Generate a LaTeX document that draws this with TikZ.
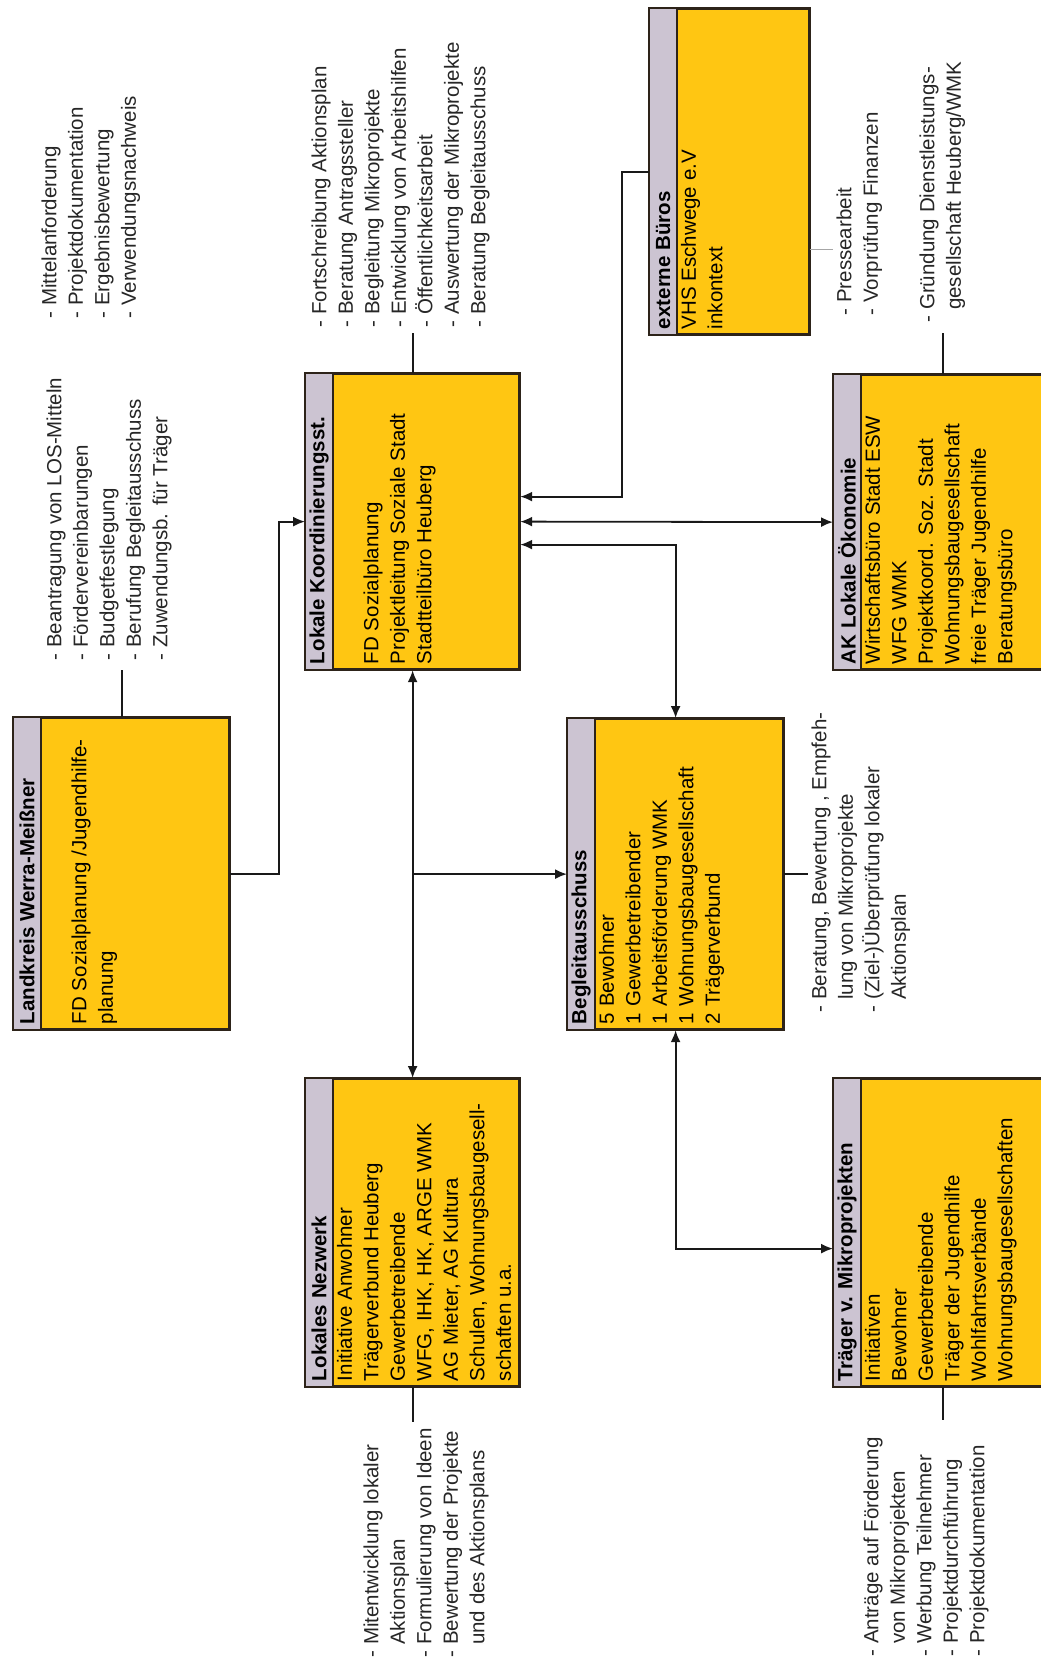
\documentclass[tikz,border=0pt]{standalone}
\usepackage{fontspec}
\setmainfont{Liberation Sans}
\usetikzlibrary{calc,arrows.meta}
\definecolor{boxfill}{RGB}{255,198,18}
\definecolor{hdrfill}{RGB}{204,196,210}
\definecolor{bord}{RGB}{45,35,25}
\newcommand\blt[1]{\strut\makebox[13pt][l]{-}#1}
\newcommand\cnl[1]{\strut\hspace*{13pt}#1}
\tikzset{
  orgbox/.style={draw=bord, line width=2.2pt, fill=boxfill, inner sep=0pt, anchor=north west},
  ttl/.style={rotate=90, anchor=west, inner sep=0pt, font=\fontsize{20.5}{26.5}\selectfont\bfseries},
  cnt/.style={rotate=90, anchor=north west, inner sep=0pt, align=left, font=\fontsize{20.5}{26.5}\selectfont},
  lst/.style={rotate=90, anchor=north west, inner sep=0pt, align=left, font=\fontsize{20.5}{26.5}\selectfont, text=black!85},
  conn/.style={line width=1.8pt, draw=black!90},
  arr/.style={conn, -{Latex[length=12pt,width=10pt]}},
  darr/.style={conn, {Latex[length=12pt,width=10pt]}-{Latex[length=12pt,width=10pt]}},
}
\newcommand\orgnode[5]{%
  \node[orgbox, minimum width=#4pt, minimum height=#5pt] (#1) at (#2,#3) {};
  \fill[hdrfill] (#1.north west) rectangle ([xshift=28pt]#1.south west);
  \draw[draw=bord, line width=2.2pt] ([xshift=28pt]#1.north west) -- ([xshift=28pt]#1.south west);
  \draw[draw=bord, line width=2.2pt] (#1.north west) rectangle (#1.south east);
}
\begin{document}
\begin{tikzpicture}[x=1pt,y=-1pt]
\useasboundingbox (0,0) rectangle (1041,1668);
\fill[white] (0,0) rectangle (1041,1668);
\clip (0,0) rectangle (1041,1668);

% boxes
\orgnode{lk}{13}{717}{215}{311}
\orgnode{lks}{305}{373}{213}{295}
\orgnode{nz}{305}{1078}{213}{307}
\orgnode{bg}{567}{718}{215}{310}
\orgnode{ext}{649}{8}{159}{325}
\orgnode{ak}{833}{374}{218}{294}
\orgnode{tr}{833}{1078}{218}{307}

% titles
\node[ttl] at ($(lk.south west)+(14,-6)$) {Landkreis Werra-Meißner};
\node[ttl] at ($(lks.south west)+(14,-6)$) {Lokale Koordinierungsst.};
\node[ttl] at ($(nz.south west)+(14,-6)$) {Lokales Nezwerk};
\node[ttl] at ($(bg.south west)+(14,-6)$) {Begleitausschuss};
\node[ttl] at ($(ext.south west)+(14,-6)$) {externe Büros};
\node[ttl] at ($(ak.south west)+(14,-6)$) {AK Lokale Ökonomie};
\node[ttl] at ($(tr.south west)+(14,-6)$) {Träger v. Mikroprojekten};

% contents
\node[cnt] at ($(lk.south west)+(28,-6)$) {\strut\\\strut FD Sozialplanung /Jugendhilfe-\\\strut planung};
\node[cnt] at ($(lks.south west)+(28,-6)$) {\strut\\\strut FD Sozialplanung\\\strut Projektleitung Soziale Stadt\\\strut Stadtteilbüro Heuberg};
\node[cnt] at ($(nz.south west)+(28,-6)$) {\strut Initiative Anwohner\\\strut Trägerverbund Heuberg\\\strut Gewerbetreibende\\\strut WFG, IHK, HK, ARGE WMK\\\strut AG Mieter, AG Kultura\\\strut Schulen, Wohnungsbaugesell-\\\strut schaften u.a.};
\node[cnt] at ($(bg.south west)+(28,-6)$) {\strut 5 Bewohner\\\strut 1 Gewerbetreibender\\\strut 1 Arbeitsförderung WMK\\\strut 1 Wohnungsbaugesellschaft\\\strut 2 Trägerverbund};
\node[cnt] at ($(ext.south west)+(28,-6)$) {\strut VHS Eschwege e.V\\\strut inkontext};
\node[cnt] at ($(ak.south west)+(28,-6)$) {\strut Wirtschaftsbüro Stadt ESW\\\strut WFG WMK\\\strut Projektkoord. Soz. Stadt\\\strut Wohnungsbaugesellschaft\\\strut freie Träger Jugendhilfe\\\strut Beratungsbüro};
\node[cnt] at ($(tr.south west)+(28,-6)$) {\strut Initiativen\\\strut Bewohner\\\strut Gewerbetreibende\\\strut Träger der Jugendhilfe\\\strut Wohlfahrtsverbände\\\strut Wohnungsbaugesellschaften};

% bullet lists
\node[lst] (l0) at (37.5,319) {\blt{Mittelanforderung}\\\blt{Projektdokumentation}\\\blt{Ergebnisbewertung}\\\blt{Verwendungsnachweis}};
\node[lst] (l1) at (42.5,661) {\blt{Beantragung von LOS-Mitteln}\\\blt{Fördervereinbarungen}\\\blt{Budgetfestlegung}\\\blt{Berufung Begleitausschuss}\\\blt{Zuwendungsb. für Träger}};
\node[lst] (l2) at (307.5,328) {\blt{Fortschreibung Aktionsplan}\\\blt{Beratung Antragssteller}\\\blt{Begleitung Mikroprojekte}\\\blt{Entwicklung von Arbeitshilfen}\\\blt{Öffentlichkeitsarbeit}\\\blt{Auswertung der Mikroprojekte}\\\blt{Beratung Begleitausschuss}};
\node[lst] (l3) at (832.5,316) {\blt{Pressearbeit}\\\blt{Vorprüfung Finanzen}};
\node[lst] (l4) at (915.5,323) {\blt{Gründung Dienstleistungs-}\\\cnl{gesellschaft Heuberg/WMK}};
\node[lst] (l5) at (807.5,1013) {\blt{Beratung, Bewertung , Empfeh-}\\\cnl{lung von Mikroprojekte}\\\blt{(Ziel-)Überprüfung lokaler}\\\cnl{Aktionsplan}};
\node[lst] (l6) at (359.5,1658) {\blt{Mitentwicklung lokaler}\\\cnl{Aktionsplan}\\\blt{Formulierung von Ideen}\\\blt{Bewertung der Projekte}\\\cnl{und des Aktionsplans}};
\node[lst] (l7) at (859.5,1657) {\blt{Anträge auf Förderung}\\\cnl{von Mikroprojekten}\\\blt{Werbung Teilnehmer}\\\blt{Projektdurchführung}\\\blt{Projektdokumentation}};

% helper coordinates
\coordinate (j1) at (279,0);
\coordinate (j2) at (622,0);
\coordinate (lksA) at ([yshift=25pt]lks.east);
\coordinate (lksC) at ([yshift=-23pt]lks.east);
\coordinate (e1) at ($(lk.north |- l1.west)+(0,9)$);
\coordinate (e2) at ($(lks.north |- l2.west)+(0,5)$);
\coordinate (e4) at ($(ak.north |- l4.west)+(0,10)$);
\coordinate (e6) at ($(nz.south)+(0,35)$);
\coordinate (e7) at ($(tr.south)+(0,33)$);
\coordinate (g1) at ([yshift=-77.5pt]ext.east);

% connectors
\draw[arr] (lk.east) -| (j1 |- lks.west) -- (lks.west);
\draw[darr] (lks.south) -- (nz.north);
\draw[arr] (lks.south |- bg.west) -- (bg.west);
\draw[arr] (ext.west) -| (j2 |- lksA) -- (lksA);
\draw[darr] (lks.east) -- (ak.west);
\draw[darr] (lksC) -| (bg.north);
\draw[darr] (bg.south) |- ([yshift=-16pt]tr.west);

\draw[conn] (lk.north) -- (e1);
\draw[conn] (lks.north) -- (e2);
\draw[conn] (ak.north) -- (e4);
\draw[conn] (bg.east) -- (bg.east -| l5.north);
\draw[conn] (nz.south) -- (e6);
\draw[conn] (tr.south) -- (e7);
\draw[line width=1.2pt, draw=black!35] (g1) -- (g1 -| l3.north);
\end{tikzpicture}
\end{document}
